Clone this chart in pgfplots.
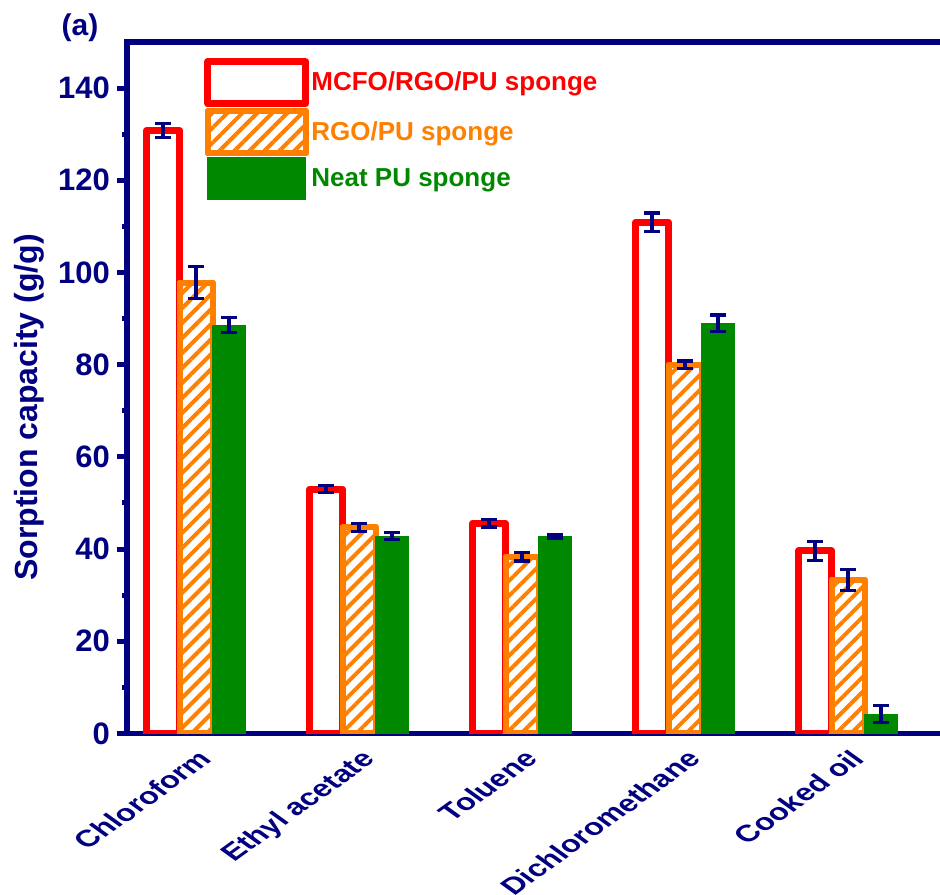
\documentclass[border=0pt]{standalone}
\usepackage{pgfplots}
\pgfplotsset{compat=1.18}
\usepackage{fontspec}
\setmainfont{Liberation Sans}
\usetikzlibrary{patterns.meta}
\definecolor{navy}{RGB}{0,0,128}
\definecolor{myred}{RGB}{255,0,0}
\definecolor{myorange}{RGB}{255,128,0}
\definecolor{mygreen}{RGB}{0,136,0}

\pgfplotsset{
  myerr/.style={error bars/.cd, y dir=both, y explicit,
    error bar style={navy, line width=1.6pt},
    error mark options={navy, line width=1.6pt, mark size=4pt, rotate=90}},
  mylegend/.style={legend image code/.code={\draw[##1] (0pt,-10.5pt) rectangle (49pt,10.5pt);}},
}

\begin{document}
\begin{tikzpicture}
\begin{axis}[
  name=ax,
  at={(0,0)}, anchor=south west,
  scale only axis, width=406.5pt, height=345.75pt,
  xmin=-0.4233, xmax=4.564, ymin=0, ymax=150,
  ybar=0pt, bar width=16.5pt,
  axis x line*=bottom, axis y line*=left,
  axis line style={navy, line width=2.8pt, line cap=rect},
  xtick={0,1,2,3,4},
  xticklabels={Chloroform, Ethyl acetate, Toluene, Dichloromethane, Cooked oil},
  xtick style={draw=none},
  xticklabel style={yscale=0.72, rotate=45, anchor=north east, inner sep=0pt,
    font=\fontsize{16.3}{19}\selectfont\bfseries, text=navy, xshift=-2pt, yshift=-2.5pt},
  ytick={0,20,...,140},
  minor y tick num=1,
  tick align=outside,
  major tick length=5pt, minor tick length=2.5pt,
  ytick style={navy, line width=2.5pt},
  /pgf/number format/assume math mode=true,
  yticklabel style={font=\fontsize{15.5}{18}\selectfont\bfseries, text=navy},
  ylabel={Sorption capacity (g/g)},
  ylabel style={at={(axis description cs:-0.1205,0.4714)}, anchor=center,
    font=\fontsize{16}{19}\selectfont\bfseries, text=navy},
  legend style={at={(0.0947,0.977)}, anchor=north west, draw=none, fill=none,
    inner sep=0pt, row sep=0.5pt, nodes={inner sep=1pt},
    font=\fontsize{13}{15}\selectfont\bfseries},
  legend cell align=left,
]
\addplot[draw=myred, line width=3.5pt, fill=white, line join=round, mylegend, myerr]
  coordinates {(0,130.8) +- (0,1.5) (1,53.0) +- (0,0.8) (2,45.6) +- (0,0.8) (3,110.9) +- (0,2.0) (4,39.6) +- (0,2.0)};
\addlegendentry{\textcolor{myred}{MCFO/RGO/PU sponge}}
\addplot[draw=myorange, line width=3pt, fill=white, line join=round,
  postaction={pattern={Lines[angle=45,distance=5.3pt,line width=2pt]}, pattern color=myorange},
  mylegend, myerr]
  coordinates {(0,97.8) +- (0,3.5) (1,44.7) +- (0,0.9) (2,38.3) +- (0,0.9) (3,80.0) +- (0,0.8) (4,33.3) +- (0,2.2)};
\addlegendentry{\textcolor{myorange}{RGO/PU sponge}}
\addplot[draw=mygreen, line width=0.4pt, fill=mygreen, mylegend, myerr]
  coordinates {(0,88.6) +- (0,1.7) (1,42.8) +- (0,0.8) (2,42.8) +- (0,0.4) (3,89.0) +- (0,1.8) (4,4.2) +- (0,1.8)};
\addlegendentry{\textcolor{mygreen}{Neat PU sponge}}
\end{axis}
\draw[navy, line width=2.8pt, line cap=rect] (ax.north west) -- (ax.north east);
\node[navy, font=\fontsize{15}{18}\selectfont\bfseries] at ([xshift=-23.5pt,yshift=7pt]ax.north west) {(a)};
\pgfresetboundingbox
\path[use as bounding box] ([xshift=-63.5pt,yshift=-80.75pt]ax.south west) rectangle ([yshift=21pt]ax.north east);
\end{tikzpicture}
\end{document}
